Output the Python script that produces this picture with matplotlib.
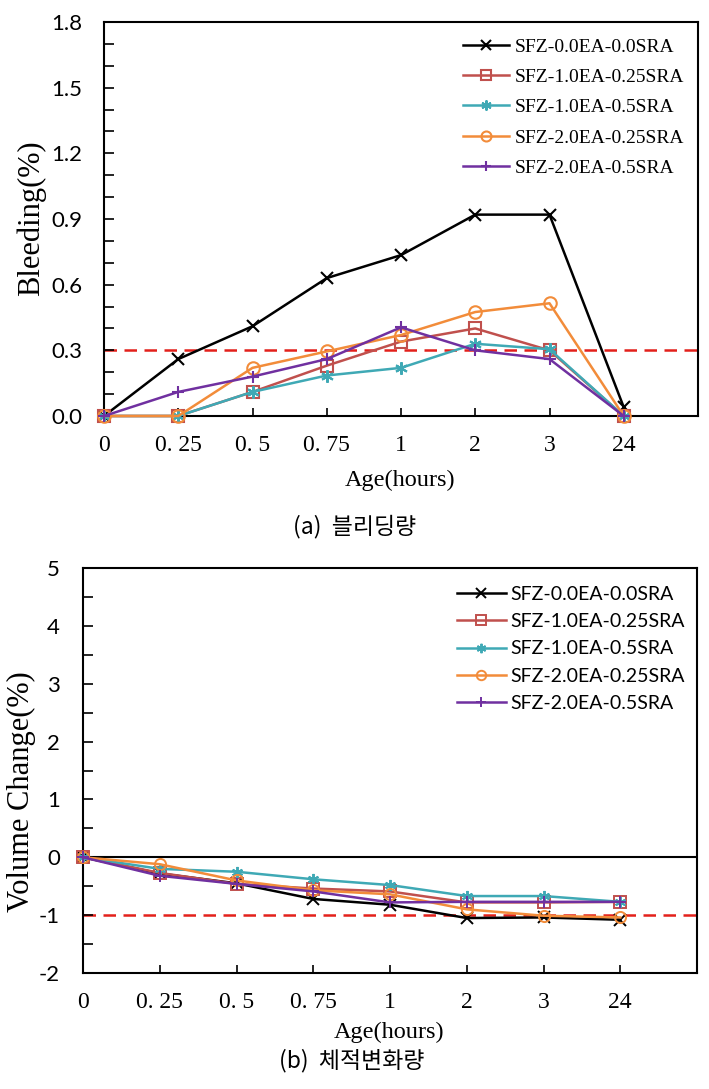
import numpy as np
import matplotlib
matplotlib.use('Agg')
import matplotlib.pyplot as plt
from matplotlib.ticker import MultipleLocator, FormatStrFormatter

plt.rcParams['axes.unicode_minus'] = False

# ---------------------------------------------------------------------------
# data
# ---------------------------------------------------------------------------
ages = ['0', '0. 25', '0. 5', '0. 75', '1', '2', '3', '24']
names = ['SFZ-0.0EA-0.0SRA', 'SFZ-1.0EA-0.25SRA', 'SFZ-1.0EA-0.5SRA',
         'SFZ-2.0EA-0.25SRA', 'SFZ-2.0EA-0.5SRA']

# (a) bleeding (%)
bleed_00 = [0.0, 0.26, 0.41, 0.63, 0.735, 0.92, 0.92, 0.04]
bleed_10_025 = [0.0, 0.0, 0.11, 0.23, 0.34, 0.40, 0.30, 0.0]
bleed_10_05 = [0.0, 0.0, 0.11, 0.185, 0.22, 0.33, 0.305, 0.0]
bleed_20_025 = [0.0, 0.0, 0.22, 0.295, 0.37, 0.475, 0.515, 0.0]
bleed_20_05 = [0.0, 0.11, 0.18, 0.26, 0.405, 0.30, 0.26, 0.0]
bleed_limit = 0.3

# (b) volume change (%)
vol_00 = [0.0, -0.28, -0.45, -0.72, -0.82, -1.05, -1.04, -1.08]
vol_10_025 = [0.0, -0.27, -0.46, -0.54, -0.59, -0.78, -0.78, -0.77]
vol_10_05 = [0.0, -0.20, -0.25, -0.38, -0.48, -0.67, -0.67, -0.77]
vol_20_025 = [0.0, -0.12, -0.40, -0.57, -0.64, -0.90, -1.01, -1.04]
vol_20_05 = [0.0, -0.32, -0.46, -0.59, -0.78, -0.77, -0.77, -0.77]
vol_limit = -1.0

# ---------------------------------------------------------------------------
colors = ['#000000', '#C0504D', '#3FA9B5', '#F28C3A', '#7030A0']
markers = ['x', 's', (6, 2, 0), 'o', '+']
serif = 'Liberation Serif'
sans = 'Lato'
kor = ['Noto Sans CJK KR', 'DejaVu Sans']
H = 1089.0
W = 709.0

x = np.arange(len(ages))

fig = plt.figure(figsize=(7.09, 10.89), dpi=100)
ax1 = fig.add_axes([104 / W, 1 - 416 / H, 594 / W, 394 / H])
ax2 = fig.add_axes([83 / W, 1 - 973 / H, 614 / W, 405 / H])


def style_axes(ax, ypad):
    ax.set_xlim(0, 8)
    ax.set_xticks(x)
    ax.set_xticklabels(ages, fontfamily=serif, fontsize=17)
    ax.tick_params(axis='x', direction='in', length=6, width=1.2, pad=14,
                   top=False)
    ax.tick_params(axis='y', which='both', direction='in', length=7,
                   width=1.2, right=False, labelsize=16, pad=ypad)
    for lab in ax.get_yticklabels():
        lab.set_fontfamily(sans)
    for s in ax.spines.values():
        s.set_linewidth(1.5)


# ---- (a) bleeding ----
series_a = [bleed_00, bleed_10_025, bleed_10_05, bleed_20_025, bleed_20_05]
ax1.axhline(bleed_limit, color='#E3201B', ls=(0, (5, 3)), lw=1.8, zorder=1)
for y, c, m, n in zip(series_a, colors, markers, names):
    ax1.plot(x, y, color=c, marker=m, ms=9, mew=1.5, lw=1.8,
             mfc='none', label=n, clip_on=False, zorder=3)
ax1.set_ylim(0, 1.8)
ax1.yaxis.set_major_locator(MultipleLocator(0.3))
ax1.yaxis.set_minor_locator(MultipleLocator(0.1))
ax1.yaxis.set_major_formatter(FormatStrFormatter('%.1f'))
style_axes(ax1, 15.5)
ax1.legend(loc='upper left', bbox_to_anchor=(0.604, 0.959),
           frameon=False, prop={'family': serif, 'size': 14},
           handlelength=2.4, handletextpad=0.26, labelspacing=0.65,
           borderpad=0, borderaxespad=0, markerscale=0.8)
fig.text(31 / W, 1 - 218 / H, 'Bleeding(%)', fontfamily=serif, fontsize=22,
         rotation=90, ha='center', va='center')
fig.text(400 / W, 1 - 480 / H, 'Age(hours)', fontfamily=serif, fontsize=17.5,
         ha='center', va='center')
fig.text(355 / W, 1 - 527 / H, '(a)  블리딩량', fontfamily=kor, fontsize=16.5,
         ha='center', va='center')

# ---- (b) volume change ----
series_b = [vol_00, vol_10_025, vol_10_05, vol_20_025, vol_20_05]
ax2.axhline(0, color='black', lw=1.5, zorder=1)
ax2.axhline(vol_limit, color='#E3201B', ls=(0, (5, 3)), lw=1.8, zorder=1)
for y, c, m, n in zip(series_b, colors, markers, names):
    ax2.plot(x, y, color=c, marker=m, ms=8, mew=1.4, lw=1.8,
             mfc='none', label=n, clip_on=False, zorder=3)
ax2.set_ylim(-2, 5)
ax2.yaxis.set_major_locator(MultipleLocator(1))
ax2.yaxis.set_minor_locator(MultipleLocator(0.5))
style_axes(ax2, 16.5)
ax2.legend(loc='upper left', bbox_to_anchor=(0.609, 0.956),
           frameon=False, prop={'family': sans, 'size': 14},
           handlelength=2.5, handletextpad=0.26, labelspacing=0.53,
           borderpad=0, borderaxespad=0, markerscale=0.85)
fig.text(21 / W, 1 - 792 / H, 'Volume Change(%)', fontfamily=serif,
         fontsize=22, rotation=90, ha='center', va='center')
fig.text(389 / W, 1 - 1032 / H, 'Age(hours)', fontfamily=serif, fontsize=17.5,
         ha='center', va='center')
fig.text(352 / W, 1 - 1061 / H, '(b)  체적변화량', fontfamily=kor,
         fontsize=16.5, ha='center', va='center')

fig.savefig('out.png', dpi=100)
